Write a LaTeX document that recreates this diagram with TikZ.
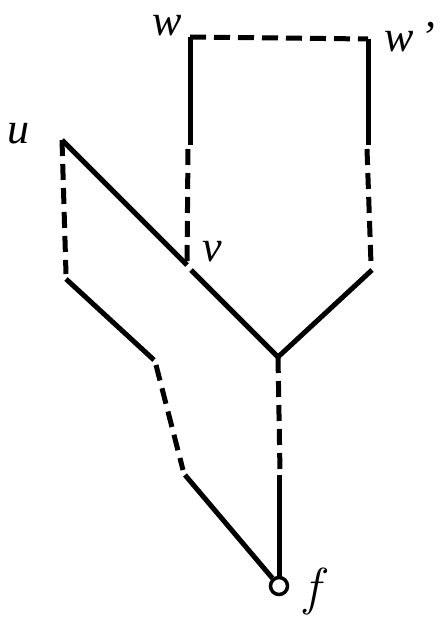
\documentclass[tikz,border=0pt]{standalone}
\usepackage{fontspec}
\setmainfont{Liberation Serif}
\newfontfamily\lmfont{Latin Modern Roman}
\begin{document}
\begin{tikzpicture}[x=1pt,y=-1pt]
        \tikzset{full seg/.style={draw,line width=5pt},
                 dash seg/.style={draw,line width=5pt,dash pattern=on 16pt off 8pt},
                 vlabel/.style={font=\fontsize{44}{48}\selectfont\itshape}}
        \useasboundingbox (0,0) rectangle (439,626);

        \coordinate (w) at (190,37);
        \coordinate (w') at (368,39);
        \coordinate (wl) at (190,145);
        \coordinate (wl2) at (188,149);
        \coordinate (wr) at (368,145);
        \coordinate (wr2) at (367,149);
        \coordinate (wr3) at (371,264);
        \coordinate (wr4) at (372,270);
        \coordinate (u) at (62,140);
        \coordinate (v) at (187,265);
        \coordinate (v2) at (191,270);
        \coordinate (j) at (278,357);
        \coordinate (a) at (66,274);
        \coordinate (a2) at (66,279);
        \coordinate (b) at (154,360);
        \coordinate (b2) at (156,365);
        \coordinate (c) at (183,470);
        \coordinate (c2) at (185,475);
        \coordinate (d) at (280,472);
        \coordinate (d2) at (279,475);

        \node[circle,draw,line width=3.5pt,fill=white,minimum size=17pt,inner sep=0pt] (f) at (279,586) {};

        % top box
        \draw[dash seg] (w) -- (w');
        \draw[full seg] (w) -- (wl);
        \draw[dash seg] (wl2) -- (v);
        \draw[full seg] (w') -- (wr);
        \draw[dash seg] (wr2) -- (wr3);
        \draw[full seg] (wr4) -- (j);

        % diagonal through v
        \draw[full seg] (u) -- (v);
        \draw[full seg] (v2) -- (j);

        % left chain
        \draw[dash seg] (u) -- (a);
        \draw[full seg] (a2) -- (b);
        \draw[dash seg] (b2) -- (c);
        \draw[full seg] (c2) -- (f);

        % middle stem
        \draw[dash seg] (j) -- (d);
        \draw[full seg] (d2) -- (f);

        \node[vlabel] (wlab) at (167,26) {w};
        \node[vlabel] (wplab) at (410,37) {w\,'};
        \node[vlabel] (ulab) at (18,134) {u};
        \node[vlabel] (vlab) at (212,252) {v};
        \node[font=\fontsize{52}{56}\selectfont\lmfont\itshape] (flab) at (312,591) {f};
\end{tikzpicture}
\end{document}
